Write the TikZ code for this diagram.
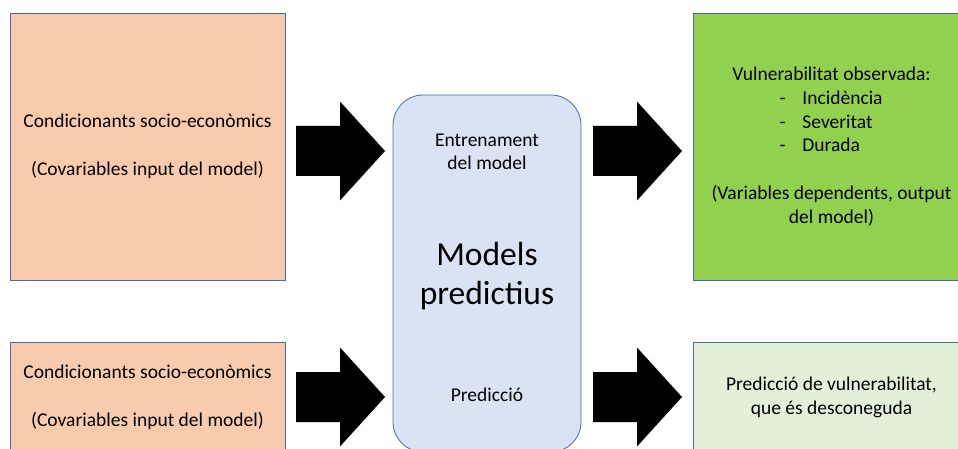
\documentclass[tikz,border=0pt]{standalone}
\usepackage{fontspec}
\setmainfont{Carlito}
\definecolor{orangefill}{HTML}{F8CBAD}
\definecolor{bluefill}{HTML}{DAE3F3}
\definecolor{greenfill}{HTML}{92D050}
\definecolor{lightgreen}{HTML}{E2F0D9}
\definecolor{edgeblue}{HTML}{4A6AA5}
\tikzset{
  boxbase/.style={draw=edgeblue, line width=0.8pt, rectangle, inner sep=0pt, align=center,
    font=\fontsize{19.5}{23.8}\selectfont},
  obox/.style={boxbase, fill=orangefill},
  gbox/.style={boxbase, fill=greenfill},
  lgbox/.style={boxbase, fill=lightgreen},
  midbox/.style={draw=edgeblue, line width=0.8pt, fill=bluefill, rounded corners=30pt, rectangle, inner sep=0pt},
  midtext/.style={align=center, inner sep=0pt, font=\fontsize{19.5}{22.7}\selectfont},
  bigtext/.style={align=center, inner sep=0pt, font=\fontsize{33.5}{39.5}\selectfont},
  blockarrow/.style={fill=black, draw=none}
}
\newcommand{\blockarr}[2]{%
  \fill[blockarrow] (#1,#2) ++(0,-25) -- ++(44,0) -- ++(0,-24.5) -- ++(45,49.5)
     -- ++(-45,49.5) -- ++(0,-24.5) -- ++(-44,0) -- cycle;}
\begin{document}
\begin{tikzpicture}[x=1pt,y=-1pt]
\path[use as bounding box] (0,0) rectangle (958,449);
\clip (0,0) rectangle (958,449);
\fill[white] (0,0) rectangle (958,449);

\node[obox, minimum width=275pt, minimum height=267pt] (lt) at (147.5,146.5)
  {Condicionants socio-econòmics\\[24pt](Covariables input del model)};
\node[obox, minimum width=275pt, minimum height=111pt] (lb) at (147.5,397.5)
  {Condicionants socio-econòmics\\[24pt](Covariables input del model)};

\node[midbox, minimum width=188pt, minimum height=357pt] (mid) at (487,273.5) {};
\node[midtext] (train) at (487,152) {Entrenament\\del model};
\node[bigtext] (mp) at (487,276) {Models\\predictius};
\node[midtext] (pred) at (487,395) {Predicció};

\node[gbox, minimum width=277pt, minimum height=267pt] (gt) at (831.5,146.5)
  {Vulnerabilitat observada:\\
   \makebox[104pt][l]{-\hspace{17pt}Incidència}\\
   \makebox[104pt][l]{-\hspace{17pt}Severitat}\\
   \makebox[104pt][l]{-\hspace{17pt}Durada}\\[23.8pt]
   (Variables dependents, output\\del model)};
\node[lgbox, minimum width=277pt, minimum height=111pt] (gb) at (831.5,397.5)
  {Predicció de vulnerabilitat,\\que és desconeguda};

\blockarr{296}{151}
\blockarr{296}{397}
\blockarr{593}{151}
\blockarr{593}{397}
\end{tikzpicture}
\end{document}
